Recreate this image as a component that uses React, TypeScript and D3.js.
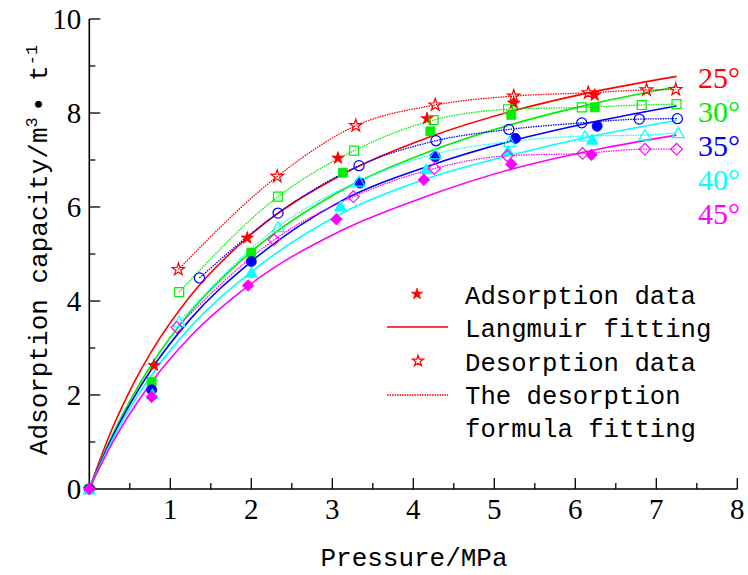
import React from "react";
import * as d3 from "d3";

// ---------- data ----------
const temperatures = ["25°", "30°", "35°", "40°", "45°"];
const seriesColors = ["#ff0000", "#00ee00", "#0000ff", "#00ffff", "#ff00ff"];
const symbolNames = ["star", "square", "circle", "triangle", "diamond"];

// Langmuir fitting curves
const fitPressure = [0, 0.25, 0.5, 0.78, 1.25, 2, 3.1, 4.2, 5.2, 6.25, 7.25];
const fit25 = [0, 1.15, 2.09, 2.96, 4.11, 5.42, 6.67, 7.49, 8.03, 8.46, 8.78];
const fit30 = [0, 1.02, 1.87, 2.68, 3.77, 5.05, 6.34, 7.18, 7.75, 8.21, 8.56];
const fit35 = [0, 0.98, 1.8, 2.58, 3.62, 4.84, 6.12, 6.88, 7.4, 7.82, 8.15];
const fit40 = [0, 0.93, 1.71, 2.45, 3.45, 4.62, 5.85, 6.62, 7.1, 7.52, 7.84];
const fit45 = [0, 0.87, 1.6, 2.3, 3.25, 4.37, 5.49, 6.25, 6.8, 7.22, 7.53];

// adsorption data (filled markers)
const adsP25 = [0, 0.8, 1.95, 3.07, 4.17, 5.24, 6.24];
const adsV25 = [0, 2.63, 5.34, 7.04, 7.88, 8.21, 8.38];
const adsP30 = [0, 0.77, 2.0, 3.13, 4.21, 5.21, 6.24];
const adsV30 = [0, 2.28, 5.03, 6.73, 7.61, 7.96, 8.12];
const adsP35 = [0, 0.77, 2.0, 3.34, 4.27, 5.26, 6.27];
const adsV35 = [0, 2.11, 4.84, 6.51, 7.07, 7.46, 7.72];
const adsP40 = [0, 0.78, 2.0, 3.1, 4.16, 5.17, 6.21];
const adsV40 = [0, 2.02, 4.61, 6.02, 6.81, 7.2, 7.44];
const adsP45 = [0, 0.77, 1.96, 3.05, 4.13, 5.21, 6.2];
const adsV45 = [0, 1.96, 4.33, 5.74, 6.58, 6.91, 7.11];

// desorption data (hollow markers)
const desP25 = [1.1, 2.32, 3.29, 4.27, 5.24, 6.16, 6.88, 7.24];
const desV25 = [4.67, 6.65, 7.73, 8.17, 8.36, 8.43, 8.49, 8.5];
const desP30 = [1.11, 2.33, 3.27, 4.25, 5.17, 6.08, 6.82, 7.25];
const desV30 = [4.19, 6.22, 7.2, 7.85, 8.08, 8.12, 8.17, 8.19];
const desP35 = [1.36, 2.33, 3.33, 4.28, 5.18, 6.08, 6.79, 7.26];
const desV35 = [4.49, 5.87, 6.88, 7.41, 7.65, 7.79, 7.87, 7.88];
const desP40 = [1.11, 2.33, 3.33, 4.27, 5.19, 6.12, 6.86, 7.27];
const desV40 = [3.56, 5.58, 6.55, 7.13, 7.39, 7.51, 7.53, 7.58];
const desP45 = [1.08, 2.28, 3.26, 4.26, 5.16, 6.09, 6.86, 7.25];
const desV45 = [3.44, 5.3, 6.22, 6.82, 7.09, 7.14, 7.23, 7.23];

const xTicks = [1, 2, 3, 4, 5, 6, 7, 8];
const yTickLabels = [0, 2, 4, 6, 8, 10];

const legendLabels = ["Adsorption data", "Langmuir fitting", "Desorption data", "The desorption", "formula fitting"];

// ---------- build series ----------
const fits = [fit25, fit30, fit35, fit40, fit45];
const adsP = [adsP25, adsP30, adsP35, adsP40, adsP45];
const adsV = [adsV25, adsV30, adsV35, adsV40, adsV45];
const desP = [desP25, desP30, desP35, desP40, desP45];
const desV = [desV25, desV30, desV35, desV40, desV45];

const W = 748;
const H = 575;
const x = d3.scaleLinear().domain([0, 8]).range([89.3, 737.3]);
const y = d3.scaleLinear().domain([0, 10]).range([489, 19]);

const symbolSizes: Record<string, number> = { star: 48, square: 80, circle: 80, triangle: 62, diamond: 68 };
const symbolTypes: Record<string, d3.SymbolType> = {
  star: d3.symbolStar,
  square: d3.symbolSquare,
  circle: d3.symbolCircle,
  triangle: d3.symbolTriangle,
  diamond: d3.symbolSquare,
};

function Marker({ name, cx, cy, color, filled, scale = 1 }: any) {
  const path = d3.symbol().type(symbolTypes[name]).size(symbolSizes[name] * scale)()!;
  const rot = name === "diamond" ? " rotate(45)" : "";
  const dy = name === "triangle" ? 1.5 : 0;
  return (
    <path
      d={path}
      transform={`translate(${cx},${cy + dy})${rot}`}
      fill={filled ? color : "none"}
      stroke={color}
      strokeWidth={filled ? 0.8 : 1.2}
    />
  );
}

export default function App() {
  const solidLine = d3
    .line<number>()
    .x((_, i) => x(fitPressure[i]))
    .y((d) => y(d))
    .curve(d3.curveMonotoneX);

  const desLine = (ps: number[]) =>
    d3
      .line<number>()
      .x((_, i) => x(ps[i]))
      .y((d) => y(d))
      .curve(d3.curveMonotoneX);

  const xMinor = d3.range(0.5, 8.01, 0.5);
  const yAll = d3.range(1, 10.01, 1);

  const monoFont = "'Liberation Mono', monospace";
  const serifFont = "'Liberation Serif', serif";

  return (
    <svg width={W} height={H} style={{ position: "absolute", left: 0, top: 0, background: "#fff" }}>
      <rect width={W} height={H} fill="#fff" />
      {/* axes */}
      <line x1={x(0)} x2={x(8)} y1={y(0)} y2={y(0)} stroke="#000" strokeWidth={1.6} />
      <line x1={x(0)} x2={x(0)} y1={y(0)} y2={y(10)} stroke="#000" strokeWidth={1.6} />
      {xMinor.map((t) => {
        const major = Math.abs(t - Math.round(t)) < 1e-6;
        return (
          <line key={"xt" + t} x1={x(t)} x2={x(t)} y1={y(0)} y2={y(0) - (major ? 11 : 6)} stroke="#000" strokeWidth={1.3} />
        );
      })}
      {yAll.map((t) => {
        const major = t % 2 === 0;
        return (
          <line key={"yt" + t} x1={x(0)} x2={x(0) + (major ? 11 : 6)} y1={y(t)} y2={y(t)} stroke="#000" strokeWidth={1.3} />
        );
      })}
      {xTicks.map((t) => (
        <text key={"xl" + t} x={x(t)} y={y(0) + 30} textAnchor="middle" fontFamily={serifFont} fontSize={29}>
          {t}
        </text>
      ))}
      {yTickLabels.map((t) => (
        <text key={"yl" + t} x={x(0) - 8} y={y(t) + 10} textAnchor="end" fontFamily={serifFont} fontSize={29}>
          {t}
        </text>
      ))}
      {/* axis titles */}
      <text x={414} y={566} textAnchor="middle" fontFamily={monoFont} fontSize={26} textLength={187} lengthAdjust="spacingAndGlyphs">
        Pressure/MPa
      </text>
      <text transform="translate(47,250) rotate(-90)" textAnchor="middle" fontFamily={monoFont} fontSize={26}>
        Adsorption capacity/m
        <tspan dy={-10} fontSize={17}>3</tspan>
        <tspan dy={10}>{"\u2009•"}</tspan>
        <tspan> t</tspan>
        <tspan dy={-10} fontSize={17}>-1</tspan>
      </text>

      {/* curves */}
      {fits.map((f, i) => (
        <path key={"fit" + i} d={solidLine(f)!} fill="none" stroke={seriesColors[i]} strokeWidth={1.6} />
      ))}
      {desV.map((v, i) => (
        <path
          key={"des" + i}
          d={desLine(desP[i])(v)!}
          fill="none"
          stroke={seriesColors[i]}
          strokeWidth={1.3}
          strokeDasharray="1.5 1"
        />
      ))}

      {/* markers */}
      {adsV.map((vals, i) => (
        <g key={"ads" + i}>
          {vals.map((v, j) => (
            <Marker key={j} name={symbolNames[i]} cx={x(adsP[i][j])} cy={y(v)} color={seriesColors[i]} filled />
          ))}
          {desV[i].map((v, j) => (
            <Marker key={"d" + j} name={symbolNames[i]} cx={x(desP[i][j])} cy={y(v)} color={seriesColors[i]} filled={false} />
          ))}
        </g>
      ))}

      {/* temperature labels */}
      {temperatures.map((t, i) => (
        <text key={"tl" + i} x={698} y={88 + i * 34} fontFamily={serifFont} fontSize={30} fill={seriesColors[i]}>
          {t}
        </text>
      ))}

      {/* legend */}
      <Marker name="star" cx={417} cy={294} color="#ff0000" filled scale={0.8} />
      <line x1={387} x2={448} y1={327} y2={327} stroke="#ff0000" strokeWidth={1.5} />
      <Marker name="star" cx={418} cy={361} color="#ff0000" filled={false} scale={0.8} />
      <line x1={387} x2={448} y1={395} y2={395} stroke="#ff0000" strokeWidth={1.3} strokeDasharray="1.5 1" />
      {legendLabels.map((l, i) => (
        <text
          key={"lg" + i}
          x={465}
          y={304 + i * 33.3}
          fontFamily={monoFont}
          fontSize={26}
          textLength={l.length * 15.4}
          lengthAdjust="spacingAndGlyphs"
        >
          {l}
        </text>
      ))}
    </svg>
  );
}
